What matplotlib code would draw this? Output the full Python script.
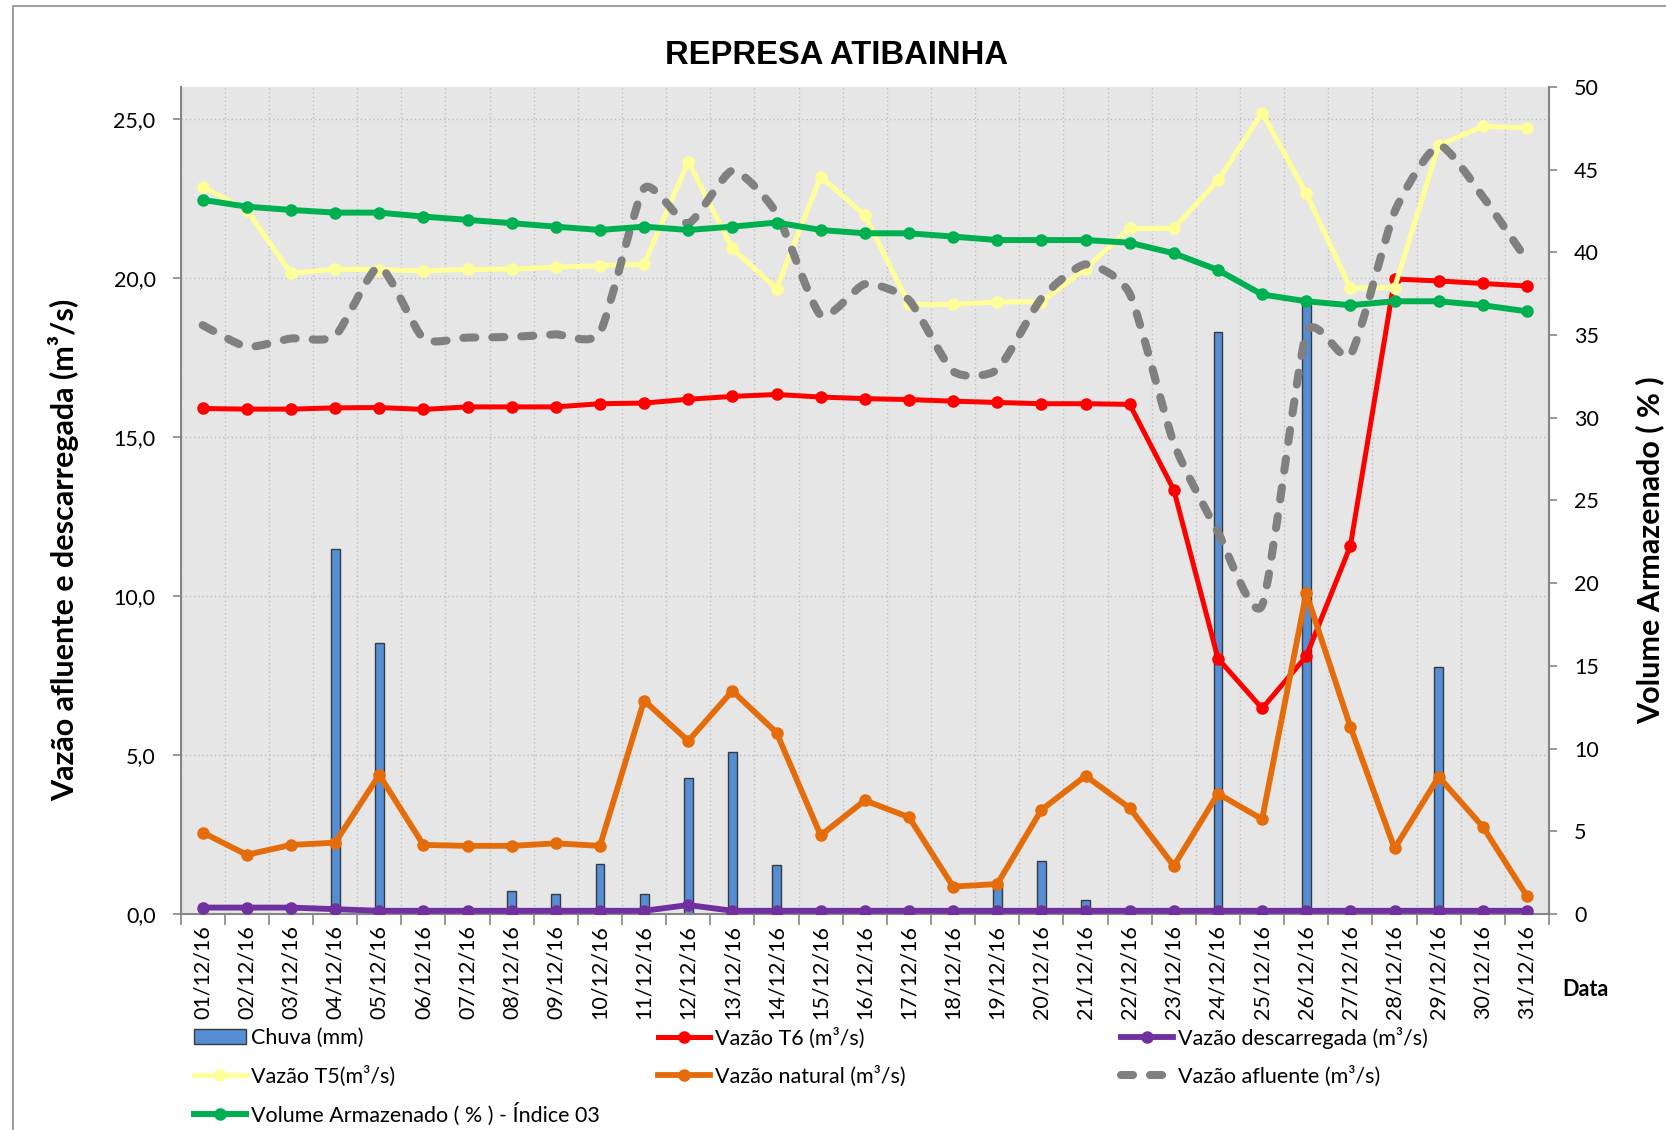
"""Represa Atibainha - vazões e volume armazenado, dezembro/2016."""
import numpy as np
import matplotlib
matplotlib.use("Agg")
import matplotlib.pyplot as plt
from matplotlib.path import Path
from matplotlib.patches import PathPatch, Patch, Rectangle
from matplotlib.lines import Line2D

plt.rcParams['font.family'] = ['Lato', 'DejaVu Sans']

datas = [f"{d:02d}/12/16" for d in range(1, 32)]

chuva = [0, 0, 0, 11.47, 8.53, 0, 0, 0.73, 0.63, 1.57, 0.63, 4.27, 5.09, 1.55, 0, 0,
         0, 0, 1.0, 1.66, 0.44, 0, 0, 18.3, 0, 19.3, 0, 0, 7.77, 0, 0]
vazao_t6 = [15.89, 15.87, 15.87, 15.91, 15.92, 15.86, 15.94, 15.94, 15.94, 16.04, 16.06,
            16.18, 16.27, 16.33, 16.25, 16.20, 16.17, 16.12, 16.08, 16.04, 16.04, 16.02,
            13.33, 8.03, 6.46, 8.10, 11.57, 19.96, 19.90, 19.82, 19.74]
vazao_desc = [0.2, 0.2, 0.2, 0.15, 0.1, 0.1, 0.1, 0.1, 0.1, 0.1, 0.1, 0.28, 0.1, 0.1, 0.1,
              0.1, 0.1, 0.1, 0.1, 0.1, 0.1, 0.1, 0.1, 0.1, 0.1, 0.1, 0.1, 0.1, 0.1, 0.1, 0.1]
vazao_t5 = [22.86, 22.13, 20.14, 20.27, 20.25, 20.22, 20.26, 20.27, 20.33, 20.38, 20.43,
            23.65, 20.92, 19.66, 23.18, 21.97, 19.16, 19.16, 19.24, 19.24, 20.29, 21.55,
            21.55, 23.06, 25.19, 22.65, 19.67, 19.69, 24.16, 24.76, 24.71]
vazao_natural = [2.56, 1.86, 2.17, 2.24, 4.37, 2.17, 2.14, 2.14, 2.22, 2.14, 6.71, 5.44,
                 7.01, 5.70, 2.47, 3.57, 3.04, 0.86, 0.94, 3.27, 4.34, 3.33, 1.51, 3.78,
                 2.98, 10.08, 5.88, 2.06, 4.31, 2.74, 0.56]
vazao_afluente = [18.51, 17.83, 18.09, 18.17, 20.35, 18.09, 18.12, 18.14, 18.22, 18.28,
                  22.81, 21.71, 23.37, 22.03, 18.82, 19.80, 19.30, 17.06, 17.11, 19.35,
                  20.42, 19.50, 14.80, 12.00, 9.70, 18.25, 17.57, 22.07, 24.16, 22.55, 20.55]
volume = [43.17, 42.76, 42.56, 42.40, 42.40, 42.16, 41.96, 41.76, 41.55, 41.35, 41.55,
          41.35, 41.55, 41.80, 41.35, 41.15, 41.15, 40.95, 40.74, 40.74, 40.74, 40.58,
          39.94, 38.93, 37.45, 37.04, 36.80, 37.04, 37.04, 36.80, 36.43]

C_CHUVA = '#558ED5'
C_T6 = '#FF0000'
C_DESC = '#7030A0'
C_T5 = '#FFFF99'
C_NAT = '#E46C0A'
C_AFL = '#808080'
C_VOL = '#00B050'
C_AXIS = '#868686'
C_GRID = '#BDBDBD'

fig = plt.figure(figsize=(16.66, 11.30), dpi=100)
ax = fig.add_axes([0.1084, 0.1912, 0.8214, 0.7319])
ax.set_facecolor('#E6E6E6')

x = np.arange(len(datas))

ax.bar(x, chuva, width=0.2, color=C_CHUVA, edgecolor='#3A3A3A', linewidth=1, zorder=2)

lw = 3.6
ms = 8
ax.plot(x, vazao_t6, color=C_T6, lw=lw, marker='o', ms=ms, zorder=4)
ax.plot(x, vazao_desc, color=C_DESC, lw=4.2, marker='o', ms=ms, zorder=4)
ax.plot(x, vazao_t5, color=C_T5, lw=lw, marker='o', ms=ms, zorder=5)
ax.plot(x, vazao_natural, color=C_NAT, lw=4.2, marker='o', ms=ms, zorder=5)

# afluente: lightly smoothed dashed line (bezier through the points)
tens = 1 / 10
ya = np.array(vazao_afluente)
n = len(ya)
verts = [(x[0], ya[0])]
codes = [Path.MOVETO]
for i in range(n - 1):
    i0 = max(i - 1, 0)
    i3 = min(i + 2, n - 1)
    c1 = (x[i] + (x[i + 1] - x[i0]) * tens, ya[i] + (ya[i + 1] - ya[i0]) * tens)
    c2 = (x[i + 1] - (x[i3] - x[i]) * tens, ya[i + 1] - (ya[i3] - ya[i]) * tens)
    verts += [c1, c2, (x[i + 1], ya[i + 1])]
    codes += [Path.CURVE4] * 3
afl = PathPatch(Path(verts, codes), fill=False, edgecolor=C_AFL, lw=5.8,
                linestyle=(0, (1.5, 2.1)), capstyle='round', zorder=6)
ax.add_patch(afl)

ax.set_xlim(-0.5, len(datas) - 0.5)
ax.set_ylim(0, 26)
ax.set_xticks(x, labels=datas, rotation=90)
ax.set_xticks(np.arange(-0.5, len(datas), 1), minor=True)
ax.tick_params(axis='x', which='major', length=0, pad=8, labelsize=15.5)
ax.tick_params(axis='x', which='minor', length=8, width=1.2, color=C_AXIS)
yt = np.arange(0, 26, 5)
ax.set_yticks(yt, labels=[f"{v:.1f}".replace('.', ',') for v in yt])
ax.tick_params(axis='y', length=6, width=1.2, color=C_AXIS, pad=12, labelsize=15.5)
ax.grid(axis='x', which='minor', ls=(0, (1, 2)), color=C_GRID, lw=1)
ax.grid(axis='y', which='major', ls=(0, (1, 2)), color=C_GRID, lw=1)
ax.set_axisbelow(True)
for s in ['left', 'bottom', 'right']:
    ax.spines[s].set_color(C_AXIS)
    ax.spines[s].set_linewidth(1.5)
ax.spines['top'].set_visible(False)

ax2 = ax.twinx()
ax2.plot(x, volume, color=C_VOL, lw=4.3, marker='o', ms=ms, zorder=4)
ax2.set_ylim(0, 50)
ax2.set_yticks(np.arange(0, 51, 5))
ax2.tick_params(axis='y', length=6, width=1.2, color=C_AXIS, pad=12, labelsize=15.5)
for s in ['left', 'bottom', 'top']:
    ax2.spines[s].set_visible(False)
ax2.spines['right'].set_color(C_AXIS)
ax2.spines['right'].set_linewidth(1.5)

fig.text(0.502, 0.951, "REPRESA ATIBAINHA", ha='center', va='center',
         fontsize=23.6, fontweight='bold', family=['Liberation Sans', 'DejaVu Sans'])
fig.text(64 / 1666, 0.513, "Vazão afluente e descarregada (m³/s)", rotation=90,
         ha='center', va='center', fontsize=22, fontweight='bold')
fig.text(1650 / 1666, 0.513, "Volume Armazenado ( % )", rotation=90,
         ha='center', va='center', fontsize=22, fontweight='bold')
fig.text(1585 / 1666, 1 - 990 / 1130, "Data", ha='center', va='center',
         fontsize=15.5, fontweight='bold')

# legend, one entry at a time to keep the Excel grid
entries = [
    (Patch(facecolor=C_CHUVA, edgecolor='#3A3A3A'), "Chuva (mm)", 0, 0),
    (Line2D([], [], color=C_T6, lw=lw, marker='o', ms=ms), "Vazão T6 (m³/s)", 1, 0),
    (Line2D([], [], color=C_DESC, lw=4.2, marker='o', ms=ms), "Vazão descarregada (m³/s)", 2, 0),
    (Line2D([], [], color=C_T5, lw=lw, marker='o', ms=ms), "Vazão T5(m³/s)", 0, 1),
    (Line2D([], [], color=C_NAT, lw=4.2, marker='o', ms=ms), "Vazão natural (m³/s)", 1, 1),
    (Line2D([], [], color=C_AFL, lw=5.8, linestyle=(0, (1.5, 2.1)), dash_capstyle='round'),
     "Vazão afluente (m³/s)", 2, 1),
    (Line2D([], [], color=C_VOL, lw=4.3, marker='o', ms=ms), "Volume Armazenado ( % ) - Índice 03", 0, 2),
]
col_x = [194 / 1666, 658 / 1666, 1121 / 1666]
row_y = [1 - 1038 / 1130, 1 - 1076 / 1130, 1 - 1114 / 1130]
for h, lab, c, r in entries:
    fig.legend([h], [lab], loc='center left', bbox_to_anchor=(col_x[c], row_y[r]),
               frameon=False, fontsize=15.5, numpoints=1, handlelength=2.4,
               handletextpad=0.25, borderpad=0, borderaxespad=0)

fig.patches.append(Rectangle((13 / 1666, -0.05), 1.1, 1 - 6 / 1130 + 0.05,
                             transform=fig.transFigure, fill=False,
                             edgecolor='#8C8C8C', lw=1.2))

fig.savefig("out.png", dpi=100)
plt.close()
